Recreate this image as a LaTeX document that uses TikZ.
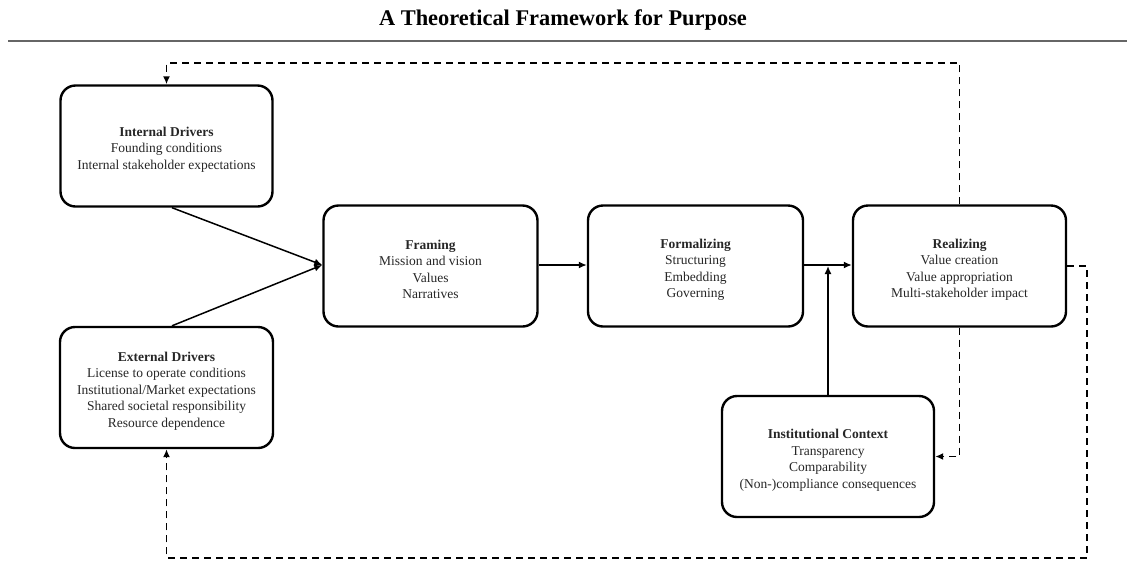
\documentclass[tikz,border=0pt]{standalone}
\usepackage{fontspec}
\setmainfont{Liberation Serif}
\usetikzlibrary{arrows.meta,calc}
\newcommand{\hd}[1]{\rule{0pt}{16.5pt}\textbf{#1}}
\begin{document}
\begin{tikzpicture}[x=1pt,y=-1pt,
  box/.style={draw=black,line width=2.4pt,rounded corners=15pt,align=center,
    font=\fontsize{13.5}{16.5}\selectfont,text=black!85,inner sep=0pt},
  flow/.style={line width=1.5pt,-{Latex[length=8pt,width=7pt]}},
  fb/.style={line width=1.6pt,dash pattern=on 7pt off 5pt,-{Latex[length=8pt,width=7pt]}}]
\useasboundingbox (0,0) rectangle (1127,574);
\node[font=\fontsize{22.4}{24}\bfseries\selectfont] (title) at (563,20) {A Theoretical Framework for Purpose};
\draw[line width=2pt,black!60] (8,41) -- (1127,41);
\node[box,minimum width=212pt,minimum height=121pt] (int) at (166.5,146)
  {\hd{Internal Drivers}\\Founding conditions\\Internal stakeholder expectations};
\node[box,minimum width=213pt,minimum height=121pt] (ext) at (166.5,387.5)
  {\hd{External Drivers}\\License to operate conditions\\Institutional/Market expectations\\Shared societal responsibility\\Resource dependence};
\node[box,minimum width=214pt,minimum height=121pt] (fram) at (430.5,266)
  {\hd{Framing}\\Mission and vision\\Values\\Narratives};
\node[box,minimum width=215pt,minimum height=121pt] (form) at (695.5,266)
  {\hd{Formalizing}\\Structuring\\Embedding\\Governing};
\node[box,minimum width=213pt,minimum height=121pt] (real) at (959.5,266)
  {\hd{Realizing}\\Value creation\\Value appropriation\\Multi-stakeholder impact};
\node[box,minimum width=212pt,minimum height=121pt] (inst) at (828,456.5)
  {\hd{Institutional Context}\\Transparency\\Comparability\\(Non-)compliance consequences};
\coordinate (tl) at (0,63);
\coordinate (br) at (1087,558);
\draw[flow] ($(int.south)+(5.5,0)$) -- ($(fram.west)+(0,-1)$);
\draw[flow] ($(ext.north)+(5.5,0)$) -- ($(fram.west)+(0,-1)$);
\draw[flow] ($(fram.east)+(0,-1)$) -- ($(form.west)+(0,-1)$);
\draw[flow] ($(form.east)+(0,-1)$) -- ($(real.west)+(0,-1)$);
\draw[flow] (inst.north) -- (inst.north |- real.west);
\draw[fb] (real.south) -- (real.south |- inst.east) -- (inst.east);
\draw[fb] (real.north) -- (real.north |- tl) -- (int.north |- tl) -- (int.north);
\draw[fb] (real.east) -- (br |- real.east) -- (br) -- (ext.south |- br) -- (ext.south);
\end{tikzpicture}
\end{document}
